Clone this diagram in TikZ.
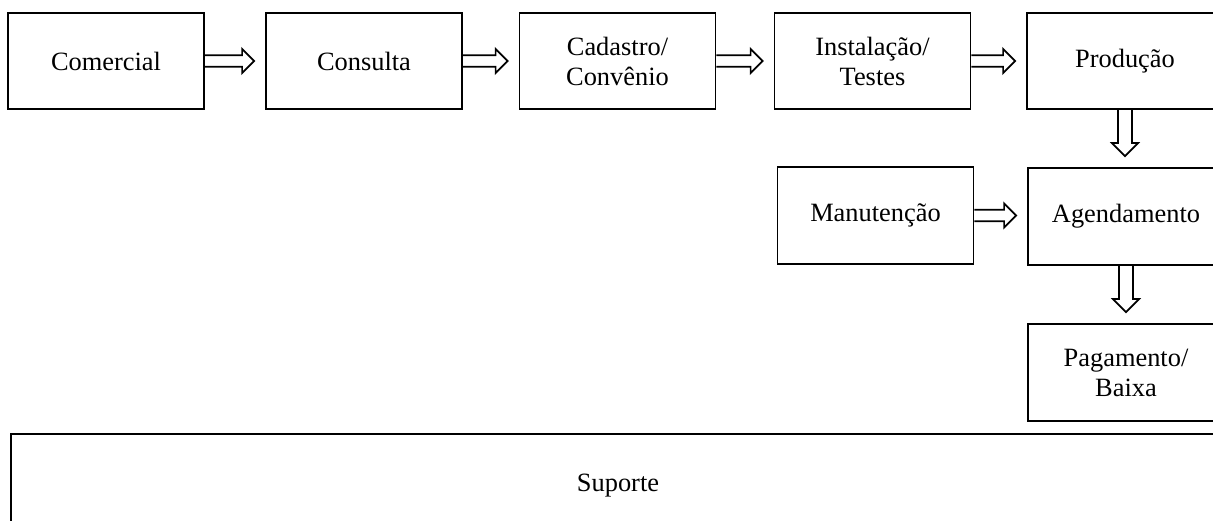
\documentclass[tikz,border=0pt]{standalone}
\usepackage{fontspec}
\setmainfont{Liberation Serif}
\usetikzlibrary{calc}
\newcommand\hblk[2]{\draw[blk] let \p1=(#1.east), \p2=(#2.west) in
  (\x1,\y1+5.7pt) -- (\x2-23pt,\y1+5.7pt) -- (\x2-23pt,\y1+12pt) -- (\x2-11pt,\y1)
  -- (\x2-23pt,\y1-12pt) -- (\x2-23pt,\y1-5.7pt) -- (\x1,\y1-5.7pt);}
\newcommand\vblk[2]{\draw[blk] let \p1=(#1.south), \p2=(#2.north) in
  (\x1-7pt,\y1) -- (\x1-7pt,\y2+24pt) -- (\x1-13pt,\y2+24pt) -- (\x1,\y2+11pt)
  -- (\x1+13pt,\y2+24pt) -- (\x1+7pt,\y2+24pt) -- (\x1+7pt,\y1);}
\begin{document}
\begin{tikzpicture}[x=1pt,y=-1pt,
  box/.style={draw, line width=1.8pt, minimum width=196pt, minimum height=96pt,
    inner sep=0pt, align=center, font=\fontsize{26.4}{30}\selectfont},
  blk/.style={draw, line width=1.7pt, line join=miter}]
\useasboundingbox (0,0) rectangle (1213,521);
\clip (0,0) rectangle (1213,521);
\node[box] (com) at (106,61) {Comercial};
\node[box] (con) at (364,61) {Consulta};
\node[box] (cad) at (617.5,61) {Cadastro/\\Convênio};
\node[box] (ins) at (872.5,61) {Instalação/\\Testes};
\node[box] (pro) at (1125,61) {Produção};
\node[box, minimum height=97pt] (man) at (875.5,215.5) {Manutenção};
\node[box, minimum height=97pt] (age) at (1126,216.5) {Agendamento};
\node[box, minimum height=97pt] (pag) at (1126,372.5) {Pagamento/\\Baixa};
\node[box, minimum width=1214pt, minimum height=104pt] (sup) at (618,486) {Suporte};
\hblk{com}{con}
\hblk{con}{cad}
\hblk{cad}{ins}
\hblk{ins}{pro}
\hblk{man}{age}
\vblk{pro}{age}
\vblk{age}{pag}
\end{tikzpicture}
\end{document}
